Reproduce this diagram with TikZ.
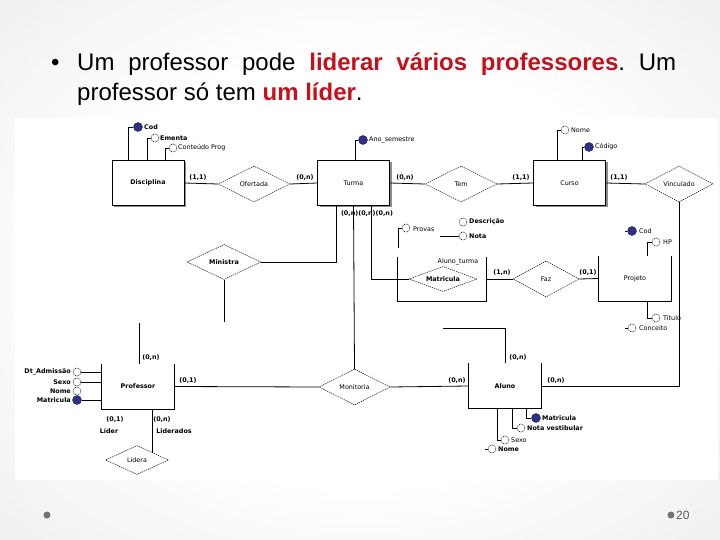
\documentclass[tikz,border=0pt]{standalone}
\usepackage{fontspec}
\setmainfont{Liberation Sans}
\newfontfamily\erfont{DejaVu Sans}
\usetikzlibrary{shapes.geometric,shadows}
\definecolor{slidered}{RGB}{196,18,28}
\definecolor{keyblue}{RGB}{48,48,138}
\pgfdeclareradialshading{slidebg}{\pgfpoint{0bp}{0bp}}{color(0bp)=(white);color(20bp)=(white);color(50bp)=(black!12);color(72bp)=(black!20)}
\frenchspacing
\begin{document}
\begin{tikzpicture}[x=1pt,y=-1pt,
  erf/.style={font=\erfont\fontsize{6.4}{7}\selectfont},
  erb/.style={font=\erfont\bfseries\fontsize{6.4}{7}\selectfont},
  ent/.style={rectangle, draw, line width=0.9pt, fill=white, minimum width=72pt, minimum height=45pt, inner sep=0pt,
    drop shadow={shadow xshift=2pt,shadow yshift=-2pt,fill=black!45,opacity=1}},
  uent/.style={rectangle, minimum width=72pt, minimum height=45pt, inner sep=0pt},
  ubox/.style={line width=0.9pt},
  rel/.style={diamond, aspect=2, draw, dash pattern=on 1.2pt off 0.9pt, line width=0.5pt, fill=white, inner sep=0pt},
  attr/.style={circle, draw, dash pattern=on 1pt off 0.8pt, line width=0.5pt, fill=white, minimum size=8pt, inner sep=0pt},
  keyattr/.style={circle, fill=keyblue, draw=keyblue!60!black, line width=0.4pt, minimum size=9pt, inner sep=0pt},
  lbl/.style={erf, anchor=west, inner sep=0pt},
  lblb/.style={erb, anchor=west, inner sep=0pt},
  rlbl/.style={erb, anchor=east, inner sep=0pt},
  card/.style={erb, inner sep=0pt},
  conn/.style={line width=0.8pt},
  title/.style={anchor=base west, inner sep=0pt, font=\fontsize{24}{30}\selectfont}]

\useasboundingbox (0,0) rectangle (720,540);
\shade[shading=slidebg] (0,0) rectangle (720,540);

% title
\node[title] (bul) at (51,71) {•};
\node[title] (t1) at (77,71) {\makebox[599pt][s]{Um professor pode \textcolor{slidered}{\textbf{liderar vários professores}}. Um}};
\node[title] (t2) at (77,101) {professor só tem \textcolor{slidered}{\textbf{um líder}}.};

% diagram area
\fill[white] (15,118) rectangle (718,480);

% entities (top row)
\node[ent, erb] (disc) at (148,183) {Disciplina};
\node[ent, erf] (turma) at (353.5,183) {Turma};
\node[ent, erf] (curso) at (569.5,183) {Curso};

% entities (lower, open top)
\node[uent, erb] (prof) at (138,386.5) {Professor};
\draw[ubox] (prof.north west) -- (prof.south west) -- (prof.south east) -- (prof.north east);
\node[uent, erb] (aluno) at (505,386) {Aluno};
\draw[ubox] (aluno.north west) -- (aluno.south west) -- (aluno.south east) -- (aluno.north east);
\node[uent, erf] (proj) at (635,278.5) {Projeto};
\draw[ubox] (proj.north west) -- (proj.south west) -- (proj.south east) -- (proj.north east);
\node[rectangle, minimum width=88pt, minimum height=44pt, inner sep=0pt] (alt) at (442,279) {};
\draw[ubox] (alt.north west) -- (alt.south west) -- (alt.south east) -- (alt.north east);
\node[erf, inner sep=0pt] (altlbl) at (458,261.5) {Aluno\_turma};

% relationships
\node[rel, erf, minimum width=72pt, minimum height=36pt] (ofer) at (254,184) {Ofertada};
\node[rel, erf, minimum width=72pt, minimum height=36pt] (tem) at (461,184) {Tem};
\node[rel, erf, minimum width=68pt, minimum height=36pt] (vinc) at (679,184) {Vinculado};
\node[rel, erb, minimum width=74pt, minimum height=35pt] (min) at (224,262) {Ministra};
\node[rel, erb, aspect=2.7, minimum width=68pt, minimum height=25pt] (mat) at (443,279) {Matricula};
\node[rel, erf, minimum width=66pt, minimum height=36pt] (faz) at (546,279) {Faz};
\node[rel, erf, minimum width=71pt, minimum height=36pt] (mon) at (354.5,387) {Monitoria};
\node[rel, erf, minimum width=63pt, minimum height=29pt] (lid) at (137,460) {Lidera};

% connectors
\draw[conn] (disc.east) -- (ofer.west);
\draw[conn] (ofer.east) -- (turma.west);
\draw[conn] (turma.east) -- (tem.west);
\draw[conn] (tem.east) -- (curso.west);
\draw[conn] (curso.east) -- (vinc.west);
\draw[conn] (vinc.south) |- (aluno.east);
\draw[conn] ([xshift=19pt]turma.south west) |- (min.east);
\draw[conn] (turma.south) -- (mon.north);
\draw[conn] ([xshift=54pt]turma.south west) |- (mat.west);
\coordinate (minEnd) at (224,322);
\draw[conn] (min.south) -- (minEnd);
\coordinate (profTop) at (139,323);
\draw[conn] (profTop) -- (profTop |- prof.north);
\draw[conn] (prof.east) -- (mon.west);
\draw[conn] (mon.east) -- (aluno.west);
\coordinate (alEnd) at (443,328);
\draw[conn] ([xshift=37pt]aluno.north west) |- (alEnd);
\draw[conn] (alt.east) -- (faz.west);
\draw[conn] (faz.east) -- (proj.west);
\draw[conn] (lid.north east |- prof.south) -- (lid.north east);

% cardinalities
\node[card] at (198,178) {(1,1)};
\node[card] at (305,178) {(0,n)};
\node[card] at (405,178) {(0,n)};
\node[card] at (521,178) {(1,1)};
\node[card] at (619,178) {(1,1)};
\node[card] at (367,214) {(0,n)(0,n)(0,n)};
\node[card] at (502,273) {(1,n)};
\node[card] at (588,273) {(0,1)};
\node[card] at (151,358) {(0,n)};
\node[card] at (188,381) {(0,1)};
\node[card] at (457,381) {(0,n)};
\node[card] at (518,358) {(0,n)};
\node[card] at (556,381) {(0,n)};
\node[card] at (115,420) {(0,1)};
\node[card] at (162,420) {(0,n)};
\node[card] at (109,431) {Líder};
\node[card] at (174,431) {Liderados};

% Disciplina attributes
\node[keyattr] (dcod) at (138,127) {};
\node[lblb] at (144,127) {Cod};
\draw[conn] ([xshift=17pt]disc.north west) |- (dcod.west);
\node[attr] (dem) at (155,138) {};
\node[lblb] at (160,138) {Ementa};
\draw[conn] ([xshift=36pt]disc.north west) |- (dem.west);
\node[attr] (dcon) at (173,148) {};
\node[lbl] at (178,148) {Conteúdo Prog};
\draw[conn] ([xshift=54pt]disc.north west) |- (dcon.west);

% Turma attribute
\node[keyattr] (tano) at (363,140) {};
\node[lbl] at (369,140) {Ano\_semestre};
\draw[conn] ([xshift=38pt]turma.north west) |- (tano.west);

% Curso attributes
\node[attr] (cnome) at (565,130) {};
\node[lbl] at (571,130) {Nome};
\draw[conn] ([xshift=24pt]curso.north west) |- (cnome.west);
\node[keyattr] (ccod) at (589,147) {};
\node[lbl] at (595,147) {Código};
\draw[conn] ([xshift=49pt]curso.north west) |- (ccod.west);

% Aluno_turma attributes
\node[attr] (prov) at (406,228) {};
\node[lbl] at (413,229) {Provas};
\coordinate (provEnd) at (398,248);
\draw[conn] (prov.west) -| (provEnd);
\node[attr] (desc) at (463,222) {};
\node[lblb] at (469,222) {Descrição};
\node[attr] (nota) at (463,236) {};
\node[lblb] at (469,236) {Nota};
\coordinate (notaEnd) at (440,236);
\draw[conn] (notaEnd) -- (nota.west);

% Projeto attributes
\node[keyattr] (pcod) at (632,231) {};
\node[lbl] at (639,231) {Cod};
\coordinate (pcodEnd) at (625,231);
\draw[conn] (pcodEnd) -- (pcod.west);
\node[attr] (php) at (656,242) {};
\node[lbl] at (663,242) {HP};
\draw[conn] ([xshift=49pt]proj.north west) |- (php.west);
\node[attr] (ptit) at (656,318) {};
\node[lbl] at (663,318) {Titulo};
\draw[conn] ([xshift=49pt]proj.south west) |- (ptit.west);
\node[attr] (pcon) at (632,328) {};
\node[lbl] at (639,328) {Conceito};
\coordinate (pconEnd) at (625,328);
\draw[conn] (pconEnd) -- (pcon.west);

% Professor attributes
\node[attr] (padm) at (77,372) {};
\node[rlbl] at (71,372) {Dt\_Admissão};
\draw[conn] (padm.east) -- (padm.east -| prof.west);
\node[attr] (psex) at (77,382) {};
\node[rlbl] at (71,382) {Sexo};
\draw[conn] (psex.east) -- (psex.east -| prof.west);
\node[attr] (pnom) at (77,391) {};
\node[rlbl] at (71,391) {Nome};
\node[keyattr] (pmat) at (77,400) {};
\node[rlbl] at (71,400) {Matricula};
\draw[conn] (pmat.east) -- (pmat.east -| prof.west);

% Aluno attributes
\node[keyattr] (amat) at (536,418) {};
\node[lblb] at (542,418) {Matricula};
\draw[conn] ([xshift=58pt]aluno.south west) |- (amat.west);
\node[attr] (anv) at (521,428) {};
\node[lblb] at (527,428) {Nota vestibular};
\draw[conn] ([xshift=44pt]aluno.south west) |- (anv.west);
\node[attr] (asex) at (505,440) {};
\node[lbl] at (511,440) {Sexo};
\draw[conn] ([xshift=29pt]aluno.south west) |- (asex.west);
\node[attr] (anom) at (492,449) {};
\node[lblb] at (498,449) {Nome};
\coordinate (anomEnd) at (485,449);
\draw[conn] (anomEnd) -- (anom.west);

% footer
\fill[black!55] (47,515) circle (3.5);
\fill[black!55] (671,515) circle (3.5);
\node[anchor=west, inner sep=0pt, font=\fontsize{12}{14}\selectfont, text=black!65] (pg) at (676,515) {20};
\end{tikzpicture}
\end{document}
